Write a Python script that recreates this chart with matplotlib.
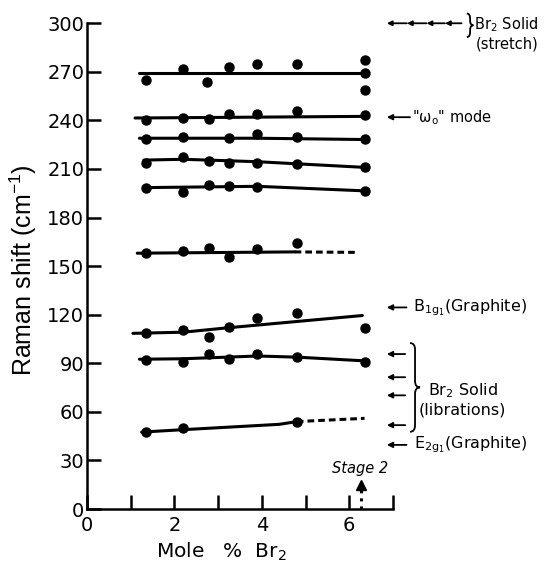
import matplotlib
matplotlib.use('Agg')
import matplotlib.pyplot as plt
from matplotlib.path import Path
from matplotlib.patches import PathPatch

plt.rcParams['font.family'] = ['DejaVu Sans']
plt.rcParams['mathtext.fontset'] = 'dejavusans'

# ---------------- data ----------------
x_270 = [1.35, 2.2, 2.75, 3.25, 3.9, 4.8, 6.35, 6.35, 6.35]
y_270 = [265, 272, 264, 273, 275, 275, 277.5, 269.5, 258.5]
fx_270 = [1.2, 6.35]
fy_270 = [269.5, 269.5]

x_242 = [1.35, 2.2, 2.8, 3.25, 3.9, 4.8, 6.35]
y_242 = [240, 241.5, 241, 244, 244, 246, 243.5]
fx_242 = [1.1, 6.35]
fy_242 = [241.5, 242.5]

x_229 = [1.35, 2.2, 3.25, 3.9, 4.8, 6.35]
y_229 = [228.5, 230, 229, 231.5, 229.5, 228.5]
fx_229 = [1.2, 3.9, 6.35]
fy_229 = [229, 229, 228.2]

x_215 = [1.35, 2.2, 2.8, 3.25, 3.9, 4.8, 6.35]
y_215 = [214, 217.5, 215, 214, 214, 213, 211]
fx_215 = [1.3, 2.2, 3.9, 6.35]
fy_215 = [215.5, 216, 214.5, 211]

x_198 = [1.35, 2.2, 2.8, 3.25, 3.9, 6.35]
y_198 = [198.5, 195.5, 200, 199.5, 199, 196.5]
fx_198 = [1.3, 3.9, 6.35]
fy_198 = [198.5, 199.3, 196.5]

x_158 = [1.35, 2.2, 2.8, 3.25, 3.9, 4.8]
y_158 = [158, 159.5, 161, 155.5, 160.5, 164]
fx_158 = [1.15, 4.75]
fy_158 = [158, 158.8]
dx_158 = [4.75, 6.2]
dy_158 = [158.8, 158.5]

x_110 = [1.35, 2.2, 2.8, 3.25, 3.9, 4.8, 6.35]
y_110 = [108.5, 110.5, 106.5, 112.5, 118, 121, 112]
fx_110 = [1.05, 2.2, 3.25, 6.3]
fy_110 = [108.5, 109.2, 112, 119.5]

x_92 = [1.35, 2.2, 2.8, 3.25, 3.9, 4.8, 6.35]
y_92 = [92, 90.5, 95.5, 92.5, 95.5, 94, 91]
fx_92 = [1.2, 2.2, 3.9, 4.8, 6.35]
fy_92 = [92.5, 92.8, 94.5, 93.8, 91.5]

x_48 = [1.35, 2.2, 4.8]
y_48 = [47.5, 50, 54]
fx_48 = [1.25, 2.2, 4.4, 4.8]
fy_48 = [47.5, 49, 52.3, 54]
dx_48 = [4.8, 6.35]
dy_48 = [54, 56]

y_ticks = [0, 30, 60, 90, 120, 150, 180, 210, 240, 270, 300]
x_ticks = [0, 1, 2, 3, 4, 5, 6, 7]
x_ticklabels = ['0', '', '2', '', '4', '', '6', '']

stretch_arrows_y = 300
libration_arrows_y = [95.7, 81.4, 70.2, 51.8]
omega_y = 242
b1g_y = 124.5
e2g_y = 39.6
stage2_x = 6.27

# ---------------- figure ----------------
fig = plt.figure(figsize=(5.46, 5.65), dpi=100)
ax = fig.add_axes([0.1593, 0.0991, 0.5604, 0.8597])
ax.set_xlim(0, 7)
ax.set_ylim(0, 300)
for s in ['top', 'right']:
    ax.spines[s].set_visible(False)
for s in ['left', 'bottom']:
    ax.spines[s].set_linewidth(1.8)

ax.set_yticks(y_ticks)
ax.set_xticks(x_ticks)
ax.set_xticklabels(x_ticklabels)
ax.tick_params(axis='both', direction='in', length=10, width=1.8,
               labelsize=14)
ax.tick_params(axis='y', pad=2)
ax.tick_params(axis='x', pad=5)

ax.set_ylabel('Raman shift (cm$^{\\mathregular{-1}}$)', fontsize=18,
              family='Liberation Sans')
ax.yaxis.label.set_va('baseline')
ax.yaxis.set_label_coords(-0.18, 0.492)
ax.set_xlabel('Mole   %  Br$_2$', fontsize=14.5)
ax.xaxis.label.set_va('baseline')
ax.xaxis.label.set_ha('left')
ax.xaxis.set_label_coords(0.2255, -0.101)

series = [(x_270, y_270, fx_270, fy_270), (x_242, y_242, fx_242, fy_242),
          (x_229, y_229, fx_229, fy_229), (x_215, y_215, fx_215, fy_215),
          (x_198, y_198, fx_198, fy_198), (x_158, y_158, fx_158, fy_158),
          (x_110, y_110, fx_110, fy_110), (x_92, y_92, fx_92, fy_92),
          (x_48, y_48, fx_48, fy_48)]
for xs, ys, fx, fy in series:
    ax.plot(fx, fy, color='k', lw=2.2, solid_capstyle='round', zorder=2)
    ax.plot(xs, ys, 'o', color='k', ms=6.5, zorder=3, clip_on=False)
for dx, dy in [(dx_158, dy_158), (dx_48, dy_48)]:
    ax.plot(dx, dy, color='k', lw=2.2, ls=(0, (2.2, 1.3)), zorder=2)


def arrow(x_tip, x_tail, y, ms=8):
    ax.annotate('', xy=(x_tip, y), xytext=(x_tail, y), xycoords='data',
                arrowprops=dict(arrowstyle='-|>', lw=1.3, color='k',
                                mutation_scale=ms, shrinkA=0, shrinkB=0),
                annotation_clip=False)


def brace(x, top, bottom, w, d):
    mid = (top + bottom) / 2
    verts = [(x, top), (x + w / 2, top), (x + w / 2, top - d),
             (x + w / 2, mid + d), (x + w / 2, mid), (x + w, mid),
             (x + w / 2, mid), (x + w / 2, mid - d),
             (x + w / 2, bottom + d), (x + w / 2, bottom), (x, bottom)]
    codes = [Path.MOVETO, Path.CURVE3, Path.CURVE3, Path.LINETO,
             Path.CURVE3, Path.CURVE3, Path.CURVE3, Path.CURVE3,
             Path.LINETO, Path.CURVE3, Path.CURVE3]
    ax.add_patch(PathPatch(Path(verts, codes), fill=False, lw=1.3,
                           color='k', clip_on=False))


tfs_small = 10.5
tfs = 11.5
# Br2 solid stretch
heads = [6.86, 7.32, 7.77, 8.19, 8.57]
for i in range(4):
    arrow(heads[i], heads[i + 1], stretch_arrows_y, ms=7)
brace(8.69, 306, 291.5, 0.15, 3)
ax.text(8.86, 299, 'Br$_2$ Solid', fontsize=tfs_small, va='center', ha='left')
ax.text(8.9, 287, '(stretch)', fontsize=tfs_small, va='center', ha='left')

# omega mode
arrow(6.86, 7.39, omega_y)
ax.text(7.43, omega_y, '"ω$_\\mathregular{o}$" mode', fontsize=tfs_small,
        va='center', ha='left')

# B1g1
arrow(6.86, 7.31, b1g_y)
ax.text(7.45, b1g_y, 'B$\\mathregular{_{1g_1}}$(Graphite)', fontsize=tfs,
        va='center', ha='left')

# librations
for yy in libration_arrows_y:
    arrow(6.86, 7.28, yy)
brace(7.39, 102.5, 47.7, 0.23, 4)
ax.text(7.81, 73.3, 'Br$_2$ Solid', fontsize=tfs, va='center', ha='left')
ax.text(7.58, 61, '(librations)', fontsize=tfs, va='center', ha='left')

# E2g1
arrow(6.86, 7.31, e2g_y)
ax.text(7.48, e2g_y, 'E$\\mathregular{_{2g_1}}$(Graphite)', fontsize=tfs,
        va='center', ha='left')

# Stage 2
ax.text(6.25, 25, 'Stage 2', fontsize=tfs_small, fontstyle='italic',
        ha='center', va='center')
ax.plot([stage2_x, stage2_x], [0, 13], color='k', lw=2.2, ls=':',
        clip_on=False)
ax.plot([stage2_x], [15], marker='^', color='k', ms=7, clip_on=False)

fig.savefig('out.png', dpi=100)
